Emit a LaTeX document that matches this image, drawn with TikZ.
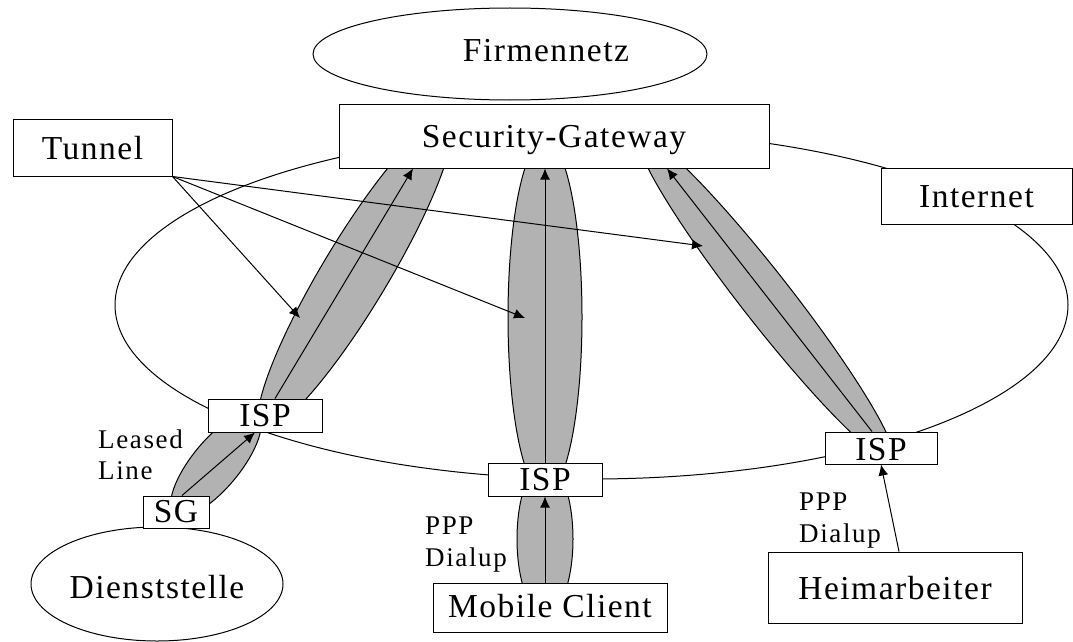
\documentclass[tikz,border=0pt]{standalone}
\usepackage{fontspec}
\setmainfont{Liberation Serif}[LetterSpace=4.5]
\newfontfamily\lblfont{Liberation Serif}[LetterSpace=6]
\usetikzlibrary{arrows.meta,shapes.geometric,calc}
\begin{document}
\begin{tikzpicture}[x=1pt,y=-1pt,
  every node/.style={font=\fontsize{33.5}{38}\selectfont},
  box/.style={draw,fill=white,line width=1pt,inner sep=0pt,text height=22pt,text depth=0pt},
  cloud/.style={ellipse,draw,line width=1pt,inner sep=0pt,text depth=0pt},
  tube/.style={draw,fill=black!30,line width=1pt},
  arr/.style={line width=1pt,-{Latex[length=11pt,width=10pt]}},
  lbl/.style={font=\lblfont\fontsize{27}{31}\selectfont,inner sep=0pt,anchor=base west}]
\useasboundingbox (0,0) rectangle (1073,642);

% the Internet
\draw[line width=1pt] (591.5,305) ellipse [x radius=476.5pt, y radius=174pt];

% company network and branch office
\node[cloud,minimum width=394pt,minimum height=92pt] (firm) at (510,54) {};
\node[anchor=base,inner sep=0pt] (firmtxt) at (546,62) {Firmennetz};
\node[cloud,fill=white,minimum width=252pt,minimum height=114pt,text height=28pt] (dst) at (157,584) {Dienststelle};

% tunnels
\draw[tube,rotate around={59:(355,274)}] (355,274) ellipse [x radius=180pt, y radius=33pt];
\draw[tube,rotate around={50.5:(216,464)}] (216,464) ellipse [x radius=65pt, y radius=24pt];
\draw[tube] (545,539) ellipse [x radius=28pt, y radius=76pt];
\draw[tube] (545,317) ellipse [x radius=37pt, y radius=177pt];
\draw[tube,rotate around={-52:(766,298)}] (766,298) ellipse [x radius=205pt, y radius=25pt];

% boxes
\node[box,minimum width=430pt,minimum height=64pt] (gw) at (554,136) {Security-Gateway};
\node[box,minimum width=159pt,minimum height=57pt,text height=23pt] (tun) at (92.5,147.5) {Tunnel};
\node[box,minimum width=191pt,minimum height=56pt] (inet) at (976.5,196) {Internet};
\node[box,minimum width=114pt,minimum height=33pt] (ispa) at (265,415.5) {ISP};
\node[box,minimum width=114pt,minimum height=33pt] (ispb) at (545,479.5) {ISP};
\node[box,minimum width=112pt,minimum height=32pt,text height=24pt] (ispc) at (881,448) {ISP};
\node[box,minimum width=66pt,minimum height=32pt,text height=20pt] (sg) at (176,512) {SG};
\node[box,minimum width=234pt,minimum height=49pt,text height=19pt] (mc) at (550,607.5) {Mobile Client};
\node[box,minimum width=254pt,minimum height=71pt,text height=23pt] (heim) at (895,587.5) {Heimarbeiter};

% connections through the tunnels
\draw[arr] ([xshift=10pt]ispa.north) -- ([xshift=-141pt]gw.south);
\draw[arr] (ispb.north) -- (gw.south -| ispb.north);
\draw[arr] ([xshift=-9pt]ispc.north) -- ([xshift=113pt]gw.south);
\draw[arr] (mc.north -| ispb.south) -- (ispb.south);
\draw[arr] ([xshift=6pt]sg.north) -- ([xshift=-10pt]ispa.south);
\draw[arr] ([xshift=4pt]heim.north) -- (ispc.south);

% pointers from the tunnel label
\coordinate (ta) at (300,318);
\coordinate (tb) at (525,318);
\coordinate (tc) at (703,246);
\draw[arr] (tun.south east) -- (ta);
\draw[arr] (tun.south east) -- (tb);
\draw[arr] (tun.south east) -- (tc);

% access labels
\node[lbl] (leased) at (98,448) {Leased};
\node[lbl] (line) at (98,479) {Line};
\node[lbl] (pppa) at (425,534) {PPP};
\node[lbl] (dialupa) at (425,566) {Dialup};
\node[lbl] (pppb) at (799,510) {PPP};
\node[lbl] (dialupb) at (799,542) {Dialup};
\end{tikzpicture}
\end{document}
